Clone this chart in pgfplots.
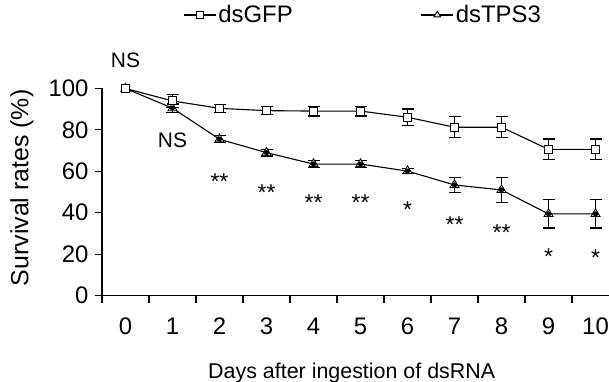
\documentclass[border=0pt]{standalone}
\usepackage{fontspec}
\setmainfont{Liberation Sans}
\usepackage{pgfplots}
\usepackage{pgfplotstable}
\pgfplotsset{compat=1.18}

\pgfplotstableread{
x gfp gfperr tps tpserr
0 100 0 100 0
1 94 3 90.5 2
2 90.4 2 75.5 1.7
3 89.3 2 69 1.6
4 89.1 2.4 63.5 1.8
5 89.1 2.4 63.5 1.8
6 86.1 4 60.1 1.2
7 81.3 5 53.4 3.6
8 81.3 5 51 6
9 70.6 5 39.4 6.8
10 70.6 5 39.4 6.8
}\datatable

\begin{document}
\begin{tikzpicture}
\begin{axis}[
  scale only axis,
  width=507bp, height=207bp,
  xmin=-0.5, xmax=10.287,
  ymin=0, ymax=100,
  clip=false,
  axis lines*=left,
  axis line style={line width=1.1bp},
  /pgf/number format/assume math mode=true,
  font=\fontsize{21}{25}\selectfont,
  tick label style={font=\fontsize{24}{28}\selectfont},
  xtick={0,...,10},
  x tick style={draw=none},
  tick align=outside,
  major tick length=7bp,
  tick style={line width=1.1bp, black},
  extra x ticks={-0.5,0.5,1.5,2.5,3.5,4.5,5.5,6.5,7.5,8.5,9.5},
  extra x tick labels={},
  extra x tick style={x tick style={draw=black}, tick align=outside, major tick length=7bp},
  ytick={0,20,...,100},
  yticklabel style={xshift=-3bp},
  xticklabel style={yshift=-12bp},
  xlabel={Days after ingestion of dsRNA},
  xlabel style={at={(axis description cs:0.4925,-0.403)}, anchor=base, font=\fontsize{21.5}{26}\selectfont},
  ylabel={Survival rates (\%)},
  ylabel style={at={(axis description cs:-0.158,0.52)}, anchor=center, font=\fontsize{25}{29}\selectfont},
  legend columns=2,
  legend style={draw=none, fill=none, at={(0.154,1.355)}, anchor=west,
    font=\fontsize{24}{28}\selectfont,
    /tikz/every even column/.append style={column sep=126bp}},
  legend image code/.code={
    \draw[mark repeat=2,mark phase=2,#1]
      plot coordinates {(0bp,0bp)(16bp,0bp)(32bp,0bp)};},
]
% error bars for dsGFP (under the squares)
\addplot[forget plot, only marks, mark=none, black, line width=1.1bp,
  skip coords between index={0}{1},
  error bars/.cd, y dir=both, y explicit,
  error bar style={line width=1.1bp, black},
  error mark options={rotate=90, mark size=6bp, line width=1.1bp, black}]
  table[x=x, y=gfp, y error=gfperr] {\datatable};
\addplot[forget plot, black, line width=1.1bp, mark=triangle*, mark size=5.2bp,
  mark options={fill=white, draw=black, line width=0.9bp, solid}]
  table[x=x, y=tps] {\datatable};
\addplot[forget plot, black, line width=1.1bp, mark=square*, mark size=4bp,
  mark options={fill=white, draw=black, line width=1.1bp, solid}]
  table[x=x, y=gfp] {\datatable};
% error bars for dsTPS3 (on top of the hollow triangles)
\addplot[forget plot, only marks, mark=none, black, line width=1.1bp,
  skip coords between index={0}{1},
  error bars/.cd, y dir=both, y explicit,
  error bar style={line width=1.1bp, black},
  error mark options={rotate=90, mark size=6bp, line width=1.1bp, black}]
  table[x=x, y=tps, y error=tpserr] {\datatable};
\addlegendimage{black, line width=1.1bp, mark=square*, mark size=3.3bp, mark options={fill=white, draw=black, line width=1bp}}
\addlegendentry{dsGFP}
\addlegendimage{black, line width=1.1bp, mark=triangle*, mark size=3.8bp, mark options={fill=white, draw=black, line width=0.9bp}}
\addlegendentry{dsTPS3}
\node at (axis cs:0,113.7) {NS};
\node at (axis cs:1,75.1) {NS};
\node[font=\fontsize{23}{27}\selectfont] at (axis cs:2,55.2) {**};
\node[font=\fontsize{23}{27}\selectfont] at (axis cs:3,49.8) {**};
\node[font=\fontsize{23}{27}\selectfont] at (axis cs:4,45) {**};
\node[font=\fontsize{23}{27}\selectfont] at (axis cs:5,45) {**};
\node[font=\fontsize{23}{27}\selectfont] at (axis cs:6,41.5) {*};
\node[font=\fontsize{23}{27}\selectfont] at (axis cs:7,34.3) {**};
\node[font=\fontsize{23}{27}\selectfont] at (axis cs:8,30.4) {**};
\node[font=\fontsize{23}{27}\selectfont] at (axis cs:9,19) {*};
\node[font=\fontsize{23}{27}\selectfont] at (axis cs:10,18.5) {*};
\end{axis}
\pgfresetboundingbox
\useasboundingbox (-102bp,-86.5bp) rectangle (507bp,295.5bp);
\end{tikzpicture}
\end{document}
